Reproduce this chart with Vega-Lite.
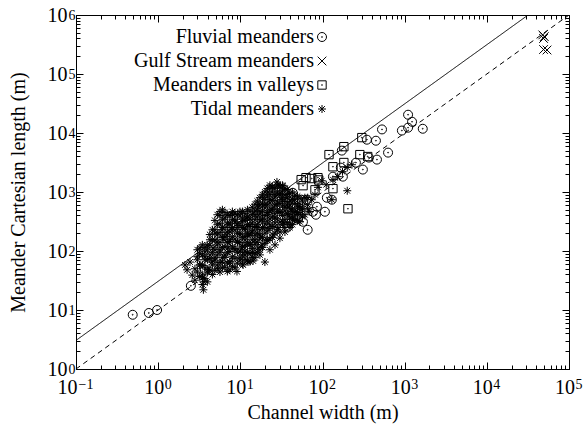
{
  "$schema": "https://vega.github.io/schema/vega-lite/v6.json",
  "width": 493,
  "height": 354,
  "autosize": "none",
  "padding": {"left": 76, "top": 15, "right": 14, "bottom": 64},
  "background": "white",
  "config": {
    "view": {"stroke": "black", "strokeWidth": 1},
    "font": "Liberation Serif",
    "axis": {"grid": false, "domainColor": "black", "tickColor": "black", "labelColor": "black", "titleColor": "black", "labelFont": "Liberation Serif", "titleFont": "Liberation Serif", "labelFontSize": 20, "titleFontSize": 20, "titleFontWeight": "normal", "labelOverlap": false, "labelFlush": false, "labelBound": false}
  },
  "datasets": {
    "lines": [
      {"w": 0.1, "l": 3.05, "kind": "a"},
      {"w": 31800, "l": 1000000, "kind": "a"},
      {"w": 0.1, "l": 1, "kind": "b"},
      {"w": 100000, "l": 1000000, "kind": "b"}
    ],
    "pts": [
      {"w": 0.49, "l": 8.3, "type": "Fluvial meanders"},
      {"w": 0.77, "l": 8.9, "type": "Fluvial meanders"},
      {"w": 0.97, "l": 10, "type": "Fluvial meanders"},
      {"w": 2.5, "l": 25.7, "type": "Fluvial meanders"},
      {"w": 3.7, "l": 48, "type": "Fluvial meanders"},
      {"w": 36.9, "l": 658, "type": "Fluvial meanders"},
      {"w": 37.9, "l": 258, "type": "Fluvial meanders"},
      {"w": 50.1, "l": 352, "type": "Fluvial meanders"},
      {"w": 57.8, "l": 313, "type": "Fluvial meanders"},
      {"w": 64.6, "l": 740, "type": "Fluvial meanders"},
      {"w": 76.4, "l": 463, "type": "Fluvial meanders"},
      {"w": 85.5, "l": 563, "type": "Fluvial meanders"},
      {"w": 83.2, "l": 412, "type": "Fluvial meanders"},
      {"w": 113, "l": 800, "type": "Fluvial meanders"},
      {"w": 130, "l": 740, "type": "Fluvial meanders"},
      {"w": 167, "l": 2590, "type": "Fluvial meanders"},
      {"w": 177, "l": 1820, "type": "Fluvial meanders"},
      {"w": 134, "l": 1820, "type": "Fluvial meanders"},
      {"w": 172, "l": 5030, "type": "Fluvial meanders"},
      {"w": 255, "l": 3140, "type": "Fluvial meanders"},
      {"w": 310, "l": 2400, "type": "Fluvial meanders"},
      {"w": 367, "l": 3830, "type": "Fluvial meanders"},
      {"w": 460, "l": 3540, "type": "Fluvial meanders"},
      {"w": 628, "l": 4650, "type": "Fluvial meanders"},
      {"w": 347, "l": 7700, "type": "Fluvial meanders"},
      {"w": 447, "l": 7400, "type": "Fluvial meanders"},
      {"w": 530, "l": 11500, "type": "Fluvial meanders"},
      {"w": 925, "l": 11000, "type": "Fluvial meanders"},
      {"w": 1100, "l": 20400, "type": "Fluvial meanders"},
      {"w": 1230, "l": 15500, "type": "Fluvial meanders"},
      {"w": 1100, "l": 12300, "type": "Fluvial meanders"},
      {"w": 1660, "l": 11800, "type": "Fluvial meanders"},
      {"w": 43.5, "l": 970, "type": "Fluvial meanders"},
      {"w": 56, "l": 740, "type": "Fluvial meanders"},
      {"w": 66, "l": 229, "type": "Fluvial meanders"},
      {"w": 107, "l": 463, "type": "Fluvial meanders"},
      {"w": 48000, "l": 460000, "type": "Gulf Stream meanders"},
      {"w": 49000, "l": 400000, "type": "Gulf Stream meanders"},
      {"w": 50000, "l": 430000, "type": "Gulf Stream meanders"},
      {"w": 49000, "l": 260000, "type": "Gulf Stream meanders"},
      {"w": 54000, "l": 255000, "type": "Gulf Stream meanders"},
      {"w": 301, "l": 8350, "type": "Meanders in valleys"},
      {"w": 182, "l": 5870, "type": "Meanders in valleys"},
      {"w": 120, "l": 4300, "type": "Meanders in valleys"},
      {"w": 285, "l": 4300, "type": "Meanders in valleys"},
      {"w": 355, "l": 3990, "type": "Meanders in valleys"},
      {"w": 134, "l": 2680, "type": "Meanders in valleys"},
      {"w": 182, "l": 3160, "type": "Meanders in valleys"},
      {"w": 55, "l": 1620, "type": "Meanders in valleys"},
      {"w": 58, "l": 1280, "type": "Meanders in valleys"},
      {"w": 74, "l": 1690, "type": "Meanders in valleys"},
      {"w": 88, "l": 1750, "type": "Meanders in valleys"},
      {"w": 81, "l": 1090, "type": "Meanders in valleys"},
      {"w": 134, "l": 1140, "type": "Meanders in valleys"},
      {"w": 204, "l": 520, "type": "Meanders in valleys"},
      {"w": 90, "l": 1600, "type": "Meanders in valleys"},
      {"w": 63, "l": 1750, "type": "Meanders in valleys"},
      {"w": 2.12, "l": 58, "type": "Tidal meanders"},
      {"w": 2.25, "l": 48, "type": "Tidal meanders"},
      {"w": 2.44, "l": 65, "type": "Tidal meanders"},
      {"w": 2.6, "l": 39, "type": "Tidal meanders"},
      {"w": 2.8, "l": 50, "type": "Tidal meanders"},
      {"w": 2.8, "l": 32, "type": "Tidal meanders"},
      {"w": 3.0, "l": 80, "type": "Tidal meanders"},
      {"w": 3.23, "l": 113, "type": "Tidal meanders"},
      {"w": 3.23, "l": 58, "type": "Tidal meanders"},
      {"w": 3.45, "l": 35, "type": "Tidal meanders"},
      {"w": 3.45, "l": 27, "type": "Tidal meanders"},
      {"w": 3.55, "l": 22, "type": "Tidal meanders"},
      {"w": 3.6, "l": 30, "type": "Tidal meanders"},
      {"w": 3.71, "l": 97, "type": "Tidal meanders"},
      {"w": 3.71, "l": 71, "type": "Tidal meanders"},
      {"w": 3.95, "l": 127, "type": "Tidal meanders"},
      {"w": 4.05, "l": 48, "type": "Tidal meanders"},
      {"w": 4.27, "l": 86, "type": "Tidal meanders"},
      {"w": 4.27, "l": 155, "type": "Tidal meanders"},
      {"w": 4.5, "l": 65, "type": "Tidal meanders"},
      {"w": 4.65, "l": 113, "type": "Tidal meanders"},
      {"w": 4.91, "l": 200, "type": "Tidal meanders"},
      {"w": 4.91, "l": 77, "type": "Tidal meanders"},
      {"w": 5.2, "l": 143, "type": "Tidal meanders"},
      {"w": 5.35, "l": 50, "type": "Tidal meanders"},
      {"w": 5.65, "l": 465, "type": "Tidal meanders"},
      {"w": 5.65, "l": 105, "type": "Tidal meanders"},
      {"w": 6.0, "l": 229, "type": "Tidal meanders"},
      {"w": 6.0, "l": 65, "type": "Tidal meanders"},
      {"w": 6.3, "l": 155, "type": "Tidal meanders"},
      {"w": 6.5, "l": 365, "type": "Tidal meanders"},
      {"w": 6.5, "l": 86, "type": "Tidal meanders"},
      {"w": 6.9, "l": 188, "type": "Tidal meanders"},
      {"w": 7.1, "l": 113, "type": "Tidal meanders"},
      {"w": 7.1, "l": 279, "type": "Tidal meanders"},
      {"w": 7.47, "l": 155, "type": "Tidal meanders"},
      {"w": 7.47, "l": 65, "type": "Tidal meanders"},
      {"w": 7.9, "l": 229, "type": "Tidal meanders"},
      {"w": 8.1, "l": 412, "type": "Tidal meanders"},
      {"w": 8.59, "l": 339, "type": "Tidal meanders"},
      {"w": 8.59, "l": 105, "type": "Tidal meanders"},
      {"w": 9.1, "l": 45, "type": "Tidal meanders"},
      {"w": 9.3, "l": 143, "type": "Tidal meanders"},
      {"w": 9.3, "l": 250, "type": "Tidal meanders"},
      {"w": 9.89, "l": 465, "type": "Tidal meanders"},
      {"w": 9.89, "l": 188, "type": "Tidal meanders"},
      {"w": 9.89, "l": 77, "type": "Tidal meanders"},
      {"w": 10.5, "l": 313, "type": "Tidal meanders"},
      {"w": 10.5, "l": 113, "type": "Tidal meanders"},
      {"w": 10.8, "l": 58, "type": "Tidal meanders"},
      {"w": 11.4, "l": 229, "type": "Tidal meanders"},
      {"w": 11.4, "l": 155, "type": "Tidal meanders"},
      {"w": 11.4, "l": 86, "type": "Tidal meanders"},
      {"w": 12.0, "l": 365, "type": "Tidal meanders"},
      {"w": 12.4, "l": 188, "type": "Tidal meanders"},
      {"w": 12.4, "l": 65, "type": "Tidal meanders"},
      {"w": 13.1, "l": 279, "type": "Tidal meanders"},
      {"w": 13.1, "l": 127, "type": "Tidal meanders"},
      {"w": 13.9, "l": 210, "type": "Tidal meanders"},
      {"w": 13.9, "l": 95, "type": "Tidal meanders"},
      {"w": 14.3, "l": 68, "type": "Tidal meanders"},
      {"w": 15.1, "l": 412, "type": "Tidal meanders"},
      {"w": 15.1, "l": 155, "type": "Tidal meanders"},
      {"w": 15.1, "l": 77, "type": "Tidal meanders"},
      {"w": 15.9, "l": 250, "type": "Tidal meanders"},
      {"w": 16.5, "l": 609, "type": "Tidal meanders"},
      {"w": 16.5, "l": 113, "type": "Tidal meanders"},
      {"w": 17.3, "l": 465, "type": "Tidal meanders"},
      {"w": 17.3, "l": 188, "type": "Tidal meanders"},
      {"w": 17.3, "l": 86, "type": "Tidal meanders"},
      {"w": 18.4, "l": 339, "type": "Tidal meanders"},
      {"w": 18.4, "l": 127, "type": "Tidal meanders"},
      {"w": 18.9, "l": 800, "type": "Tidal meanders"},
      {"w": 19.9, "l": 609, "type": "Tidal meanders"},
      {"w": 19.9, "l": 250, "type": "Tidal meanders"},
      {"w": 19.9, "l": 65, "type": "Tidal meanders"},
      {"w": 21, "l": 155, "type": "Tidal meanders"},
      {"w": 21.6, "l": 1000, "type": "Tidal meanders"},
      {"w": 21.6, "l": 412, "type": "Tidal meanders"},
      {"w": 22.9, "l": 740, "type": "Tidal meanders"},
      {"w": 22.9, "l": 279, "type": "Tidal meanders"},
      {"w": 22.9, "l": 105, "type": "Tidal meanders"},
      {"w": 24.2, "l": 1200, "type": "Tidal meanders"},
      {"w": 24.2, "l": 500, "type": "Tidal meanders"},
      {"w": 25, "l": 188, "type": "Tidal meanders"},
      {"w": 26.4, "l": 900, "type": "Tidal meanders"},
      {"w": 26.4, "l": 365, "type": "Tidal meanders"},
      {"w": 26.4, "l": 127, "type": "Tidal meanders"},
      {"w": 27.9, "l": 609, "type": "Tidal meanders"},
      {"w": 27.9, "l": 1480, "type": "Tidal meanders"},
      {"w": 28.8, "l": 1330, "type": "Tidal meanders"},
      {"w": 28.8, "l": 250, "type": "Tidal meanders"},
      {"w": 30.3, "l": 950, "type": "Tidal meanders"},
      {"w": 30.3, "l": 465, "type": "Tidal meanders"},
      {"w": 30.3, "l": 165, "type": "Tidal meanders"},
      {"w": 32, "l": 740, "type": "Tidal meanders"},
      {"w": 32.9, "l": 1270, "type": "Tidal meanders"},
      {"w": 32.9, "l": 313, "type": "Tidal meanders"},
      {"w": 34.9, "l": 550, "type": "Tidal meanders"},
      {"w": 34.9, "l": 210, "type": "Tidal meanders"},
      {"w": 37, "l": 900, "type": "Tidal meanders"},
      {"w": 38, "l": 412, "type": "Tidal meanders"},
      {"w": 40.1, "l": 609, "type": "Tidal meanders"},
      {"w": 40.1, "l": 250, "type": "Tidal meanders"},
      {"w": 42.3, "l": 465, "type": "Tidal meanders"},
      {"w": 43.5, "l": 339, "type": "Tidal meanders"},
      {"w": 46.1, "l": 740, "type": "Tidal meanders"},
      {"w": 47.5, "l": 412, "type": "Tidal meanders"},
      {"w": 50, "l": 550, "type": "Tidal meanders"},
      {"w": 53.1, "l": 313, "type": "Tidal meanders"},
      {"w": 56, "l": 500, "type": "Tidal meanders"},
      {"w": 61, "l": 412, "type": "Tidal meanders"},
      {"w": 61, "l": 800, "type": "Tidal meanders"},
      {"w": 66, "l": 609, "type": "Tidal meanders"},
      {"w": 70, "l": 465, "type": "Tidal meanders"},
      {"w": 74, "l": 740, "type": "Tidal meanders"},
      {"w": 81, "l": 900, "type": "Tidal meanders"},
      {"w": 88, "l": 1200, "type": "Tidal meanders"},
      {"w": 98, "l": 1550, "type": "Tidal meanders"},
      {"w": 111, "l": 1330, "type": "Tidal meanders"},
      {"w": 130, "l": 740, "type": "Tidal meanders"},
      {"w": 134, "l": 1618, "type": "Tidal meanders"},
      {"w": 153, "l": 1820, "type": "Tidal meanders"},
      {"w": 175, "l": 2210, "type": "Tidal meanders"},
      {"w": 200, "l": 2600, "type": "Tidal meanders"},
      {"w": 228, "l": 2900, "type": "Tidal meanders"},
      {"w": 200, "l": 1050, "type": "Tidal meanders"},
      {"w": 3.0, "l": 105, "type": "Tidal meanders"},
      {"w": 3.0, "l": 71, "type": "Tidal meanders"},
      {"w": 3.0, "l": 44, "type": "Tidal meanders"},
      {"w": 3.45, "l": 127, "type": "Tidal meanders"},
      {"w": 3.45, "l": 86, "type": "Tidal meanders"},
      {"w": 3.45, "l": 58, "type": "Tidal meanders"},
      {"w": 3.45, "l": 39, "type": "Tidal meanders"},
      {"w": 3.97, "l": 105, "type": "Tidal meanders"},
      {"w": 3.97, "l": 71, "type": "Tidal meanders"},
      {"w": 3.97, "l": 44, "type": "Tidal meanders"},
      {"w": 3.97, "l": 30, "type": "Tidal meanders"},
      {"w": 4.57, "l": 229, "type": "Tidal meanders"},
      {"w": 4.57, "l": 155, "type": "Tidal meanders"},
      {"w": 4.57, "l": 95, "type": "Tidal meanders"},
      {"w": 4.57, "l": 58, "type": "Tidal meanders"},
      {"w": 4.57, "l": 40, "type": "Tidal meanders"},
      {"w": 5.25, "l": 412, "type": "Tidal meanders"},
      {"w": 5.25, "l": 279, "type": "Tidal meanders"},
      {"w": 5.25, "l": 188, "type": "Tidal meanders"},
      {"w": 5.25, "l": 127, "type": "Tidal meanders"},
      {"w": 5.25, "l": 86, "type": "Tidal meanders"},
      {"w": 5.25, "l": 58, "type": "Tidal meanders"},
      {"w": 6.05, "l": 500, "type": "Tidal meanders"},
      {"w": 6.05, "l": 339, "type": "Tidal meanders"},
      {"w": 6.05, "l": 250, "type": "Tidal meanders"},
      {"w": 6.05, "l": 170, "type": "Tidal meanders"},
      {"w": 6.05, "l": 115, "type": "Tidal meanders"},
      {"w": 6.05, "l": 77, "type": "Tidal meanders"},
      {"w": 6.05, "l": 52, "type": "Tidal meanders"},
      {"w": 6.95, "l": 412, "type": "Tidal meanders"},
      {"w": 6.95, "l": 300, "type": "Tidal meanders"},
      {"w": 6.95, "l": 210, "type": "Tidal meanders"},
      {"w": 6.95, "l": 140, "type": "Tidal meanders"},
      {"w": 6.95, "l": 95, "type": "Tidal meanders"},
      {"w": 6.95, "l": 62, "type": "Tidal meanders"},
      {"w": 6.95, "l": 45, "type": "Tidal meanders"},
      {"w": 8.0, "l": 465, "type": "Tidal meanders"},
      {"w": 8.0, "l": 339, "type": "Tidal meanders"},
      {"w": 8.0, "l": 250, "type": "Tidal meanders"},
      {"w": 8.0, "l": 175, "type": "Tidal meanders"},
      {"w": 8.0, "l": 120, "type": "Tidal meanders"},
      {"w": 8.0, "l": 80, "type": "Tidal meanders"},
      {"w": 8.0, "l": 55, "type": "Tidal meanders"},
      {"w": 9.2, "l": 412, "type": "Tidal meanders"},
      {"w": 9.2, "l": 290, "type": "Tidal meanders"},
      {"w": 9.2, "l": 200, "type": "Tidal meanders"},
      {"w": 9.2, "l": 140, "type": "Tidal meanders"},
      {"w": 9.2, "l": 95, "type": "Tidal meanders"},
      {"w": 9.2, "l": 62, "type": "Tidal meanders"},
      {"w": 10.6, "l": 465, "type": "Tidal meanders"},
      {"w": 10.6, "l": 350, "type": "Tidal meanders"},
      {"w": 10.6, "l": 250, "type": "Tidal meanders"},
      {"w": 10.6, "l": 170, "type": "Tidal meanders"},
      {"w": 10.6, "l": 120, "type": "Tidal meanders"},
      {"w": 10.6, "l": 85, "type": "Tidal meanders"},
      {"w": 10.6, "l": 60, "type": "Tidal meanders"},
      {"w": 12.2, "l": 500, "type": "Tidal meanders"},
      {"w": 12.2, "l": 380, "type": "Tidal meanders"},
      {"w": 12.2, "l": 280, "type": "Tidal meanders"},
      {"w": 12.2, "l": 200, "type": "Tidal meanders"},
      {"w": 12.2, "l": 140, "type": "Tidal meanders"},
      {"w": 12.2, "l": 95, "type": "Tidal meanders"},
      {"w": 12.2, "l": 70, "type": "Tidal meanders"},
      {"w": 14.0, "l": 550, "type": "Tidal meanders"},
      {"w": 14.0, "l": 412, "type": "Tidal meanders"},
      {"w": 14.0, "l": 300, "type": "Tidal meanders"},
      {"w": 14.0, "l": 220, "type": "Tidal meanders"},
      {"w": 14.0, "l": 155, "type": "Tidal meanders"},
      {"w": 14.0, "l": 110, "type": "Tidal meanders"},
      {"w": 14.0, "l": 78, "type": "Tidal meanders"},
      {"w": 16.1, "l": 700, "type": "Tidal meanders"},
      {"w": 16.1, "l": 520, "type": "Tidal meanders"},
      {"w": 16.1, "l": 380, "type": "Tidal meanders"},
      {"w": 16.1, "l": 280, "type": "Tidal meanders"},
      {"w": 16.1, "l": 200, "type": "Tidal meanders"},
      {"w": 16.1, "l": 140, "type": "Tidal meanders"},
      {"w": 16.1, "l": 95, "type": "Tidal meanders"},
      {"w": 18.6, "l": 900, "type": "Tidal meanders"},
      {"w": 18.6, "l": 650, "type": "Tidal meanders"},
      {"w": 18.6, "l": 480, "type": "Tidal meanders"},
      {"w": 18.6, "l": 350, "type": "Tidal meanders"},
      {"w": 18.6, "l": 250, "type": "Tidal meanders"},
      {"w": 18.6, "l": 170, "type": "Tidal meanders"},
      {"w": 18.6, "l": 115, "type": "Tidal meanders"},
      {"w": 21.3, "l": 1150, "type": "Tidal meanders"},
      {"w": 21.3, "l": 850, "type": "Tidal meanders"},
      {"w": 21.3, "l": 600, "type": "Tidal meanders"},
      {"w": 21.3, "l": 450, "type": "Tidal meanders"},
      {"w": 21.3, "l": 320, "type": "Tidal meanders"},
      {"w": 21.3, "l": 220, "type": "Tidal meanders"},
      {"w": 21.3, "l": 150, "type": "Tidal meanders"},
      {"w": 24.5, "l": 1250, "type": "Tidal meanders"},
      {"w": 24.5, "l": 1000, "type": "Tidal meanders"},
      {"w": 24.5, "l": 720, "type": "Tidal meanders"},
      {"w": 24.5, "l": 520, "type": "Tidal meanders"},
      {"w": 24.5, "l": 380, "type": "Tidal meanders"},
      {"w": 24.5, "l": 260, "type": "Tidal meanders"},
      {"w": 24.5, "l": 170, "type": "Tidal meanders"},
      {"w": 28.2, "l": 1300, "type": "Tidal meanders"},
      {"w": 28.2, "l": 1000, "type": "Tidal meanders"},
      {"w": 28.2, "l": 700, "type": "Tidal meanders"},
      {"w": 28.2, "l": 500, "type": "Tidal meanders"},
      {"w": 28.2, "l": 350, "type": "Tidal meanders"},
      {"w": 28.2, "l": 230, "type": "Tidal meanders"},
      {"w": 32.5, "l": 1300, "type": "Tidal meanders"},
      {"w": 32.5, "l": 1050, "type": "Tidal meanders"},
      {"w": 32.5, "l": 800, "type": "Tidal meanders"},
      {"w": 32.5, "l": 580, "type": "Tidal meanders"},
      {"w": 32.5, "l": 400, "type": "Tidal meanders"},
      {"w": 32.5, "l": 280, "type": "Tidal meanders"},
      {"w": 37.3, "l": 1100, "type": "Tidal meanders"},
      {"w": 37.3, "l": 800, "type": "Tidal meanders"},
      {"w": 37.3, "l": 600, "type": "Tidal meanders"},
      {"w": 37.3, "l": 430, "type": "Tidal meanders"},
      {"w": 37.3, "l": 300, "type": "Tidal meanders"},
      {"w": 43, "l": 1000, "type": "Tidal meanders"},
      {"w": 43, "l": 750, "type": "Tidal meanders"},
      {"w": 43, "l": 520, "type": "Tidal meanders"},
      {"w": 43, "l": 380, "type": "Tidal meanders"},
      {"w": 43, "l": 280, "type": "Tidal meanders"},
      {"w": 49.5, "l": 850, "type": "Tidal meanders"},
      {"w": 49.5, "l": 620, "type": "Tidal meanders"},
      {"w": 49.5, "l": 450, "type": "Tidal meanders"},
      {"w": 49.5, "l": 330, "type": "Tidal meanders"},
      {"w": 57, "l": 700, "type": "Tidal meanders"},
      {"w": 57, "l": 520, "type": "Tidal meanders"},
      {"w": 57, "l": 380, "type": "Tidal meanders"},
      {"w": 66, "l": 800, "type": "Tidal meanders"},
      {"w": 66, "l": 520, "type": "Tidal meanders"},
      {"w": 3.2, "l": 90, "type": "Tidal meanders"},
      {"w": 3.2, "l": 58, "type": "Tidal meanders"},
      {"w": 3.2, "l": 37, "type": "Tidal meanders"},
      {"w": 3.7, "l": 115, "type": "Tidal meanders"},
      {"w": 3.7, "l": 80, "type": "Tidal meanders"},
      {"w": 3.7, "l": 52, "type": "Tidal meanders"},
      {"w": 3.7, "l": 34, "type": "Tidal meanders"},
      {"w": 4.25, "l": 190, "type": "Tidal meanders"},
      {"w": 4.25, "l": 125, "type": "Tidal meanders"},
      {"w": 4.25, "l": 75, "type": "Tidal meanders"},
      {"w": 4.25, "l": 48, "type": "Tidal meanders"},
      {"w": 4.9, "l": 330, "type": "Tidal meanders"},
      {"w": 4.9, "l": 230, "type": "Tidal meanders"},
      {"w": 4.9, "l": 155, "type": "Tidal meanders"},
      {"w": 4.9, "l": 105, "type": "Tidal meanders"},
      {"w": 4.9, "l": 70, "type": "Tidal meanders"},
      {"w": 4.9, "l": 47, "type": "Tidal meanders"},
      {"w": 5.65, "l": 400, "type": "Tidal meanders"},
      {"w": 5.65, "l": 290, "type": "Tidal meanders"},
      {"w": 5.65, "l": 205, "type": "Tidal meanders"},
      {"w": 5.65, "l": 140, "type": "Tidal meanders"},
      {"w": 5.65, "l": 95, "type": "Tidal meanders"},
      {"w": 5.65, "l": 64, "type": "Tidal meanders"},
      {"w": 5.65, "l": 44, "type": "Tidal meanders"},
      {"w": 6.5, "l": 450, "type": "Tidal meanders"},
      {"w": 6.5, "l": 250, "type": "Tidal meanders"},
      {"w": 6.5, "l": 175, "type": "Tidal meanders"},
      {"w": 6.5, "l": 118, "type": "Tidal meanders"},
      {"w": 6.5, "l": 78, "type": "Tidal meanders"},
      {"w": 6.5, "l": 53, "type": "Tidal meanders"},
      {"w": 7.45, "l": 400, "type": "Tidal meanders"},
      {"w": 7.45, "l": 290, "type": "Tidal meanders"},
      {"w": 7.45, "l": 210, "type": "Tidal meanders"},
      {"w": 7.45, "l": 145, "type": "Tidal meanders"},
      {"w": 7.45, "l": 98, "type": "Tidal meanders"},
      {"w": 7.45, "l": 66, "type": "Tidal meanders"},
      {"w": 7.45, "l": 48, "type": "Tidal meanders"},
      {"w": 8.6, "l": 440, "type": "Tidal meanders"},
      {"w": 8.6, "l": 310, "type": "Tidal meanders"},
      {"w": 8.6, "l": 230, "type": "Tidal meanders"},
      {"w": 8.6, "l": 160, "type": "Tidal meanders"},
      {"w": 8.6, "l": 110, "type": "Tidal meanders"},
      {"w": 8.6, "l": 75, "type": "Tidal meanders"},
      {"w": 8.6, "l": 52, "type": "Tidal meanders"},
      {"w": 9.9, "l": 390, "type": "Tidal meanders"},
      {"w": 9.9, "l": 270, "type": "Tidal meanders"},
      {"w": 9.9, "l": 200, "type": "Tidal meanders"},
      {"w": 9.9, "l": 140, "type": "Tidal meanders"},
      {"w": 9.9, "l": 100, "type": "Tidal meanders"},
      {"w": 9.9, "l": 70, "type": "Tidal meanders"},
      {"w": 11.4, "l": 430, "type": "Tidal meanders"},
      {"w": 11.4, "l": 330, "type": "Tidal meanders"},
      {"w": 11.4, "l": 245, "type": "Tidal meanders"},
      {"w": 11.4, "l": 175, "type": "Tidal meanders"},
      {"w": 11.4, "l": 125, "type": "Tidal meanders"},
      {"w": 11.4, "l": 100, "type": "Tidal meanders"},
      {"w": 11.4, "l": 72, "type": "Tidal meanders"},
      {"w": 13.1, "l": 470, "type": "Tidal meanders"},
      {"w": 13.1, "l": 350, "type": "Tidal meanders"},
      {"w": 13.1, "l": 260, "type": "Tidal meanders"},
      {"w": 13.1, "l": 185, "type": "Tidal meanders"},
      {"w": 13.1, "l": 130, "type": "Tidal meanders"},
      {"w": 13.1, "l": 90, "type": "Tidal meanders"},
      {"w": 13.1, "l": 66, "type": "Tidal meanders"},
      {"w": 15.1, "l": 620, "type": "Tidal meanders"},
      {"w": 15.1, "l": 480, "type": "Tidal meanders"},
      {"w": 15.1, "l": 340, "type": "Tidal meanders"},
      {"w": 15.1, "l": 260, "type": "Tidal meanders"},
      {"w": 15.1, "l": 185, "type": "Tidal meanders"},
      {"w": 15.1, "l": 130, "type": "Tidal meanders"},
      {"w": 15.1, "l": 92, "type": "Tidal meanders"},
      {"w": 17.3, "l": 800, "type": "Tidal meanders"},
      {"w": 17.3, "l": 600, "type": "Tidal meanders"},
      {"w": 17.3, "l": 420, "type": "Tidal meanders"},
      {"w": 17.3, "l": 320, "type": "Tidal meanders"},
      {"w": 17.3, "l": 230, "type": "Tidal meanders"},
      {"w": 17.3, "l": 160, "type": "Tidal meanders"},
      {"w": 17.3, "l": 105, "type": "Tidal meanders"},
      {"w": 19.9, "l": 1000, "type": "Tidal meanders"},
      {"w": 19.9, "l": 750, "type": "Tidal meanders"},
      {"w": 19.9, "l": 540, "type": "Tidal meanders"},
      {"w": 19.9, "l": 400, "type": "Tidal meanders"},
      {"w": 19.9, "l": 290, "type": "Tidal meanders"},
      {"w": 19.9, "l": 200, "type": "Tidal meanders"},
      {"w": 19.9, "l": 135, "type": "Tidal meanders"},
      {"w": 22.9, "l": 1300, "type": "Tidal meanders"},
      {"w": 22.9, "l": 900, "type": "Tidal meanders"},
      {"w": 22.9, "l": 650, "type": "Tidal meanders"},
      {"w": 22.9, "l": 480, "type": "Tidal meanders"},
      {"w": 22.9, "l": 350, "type": "Tidal meanders"},
      {"w": 22.9, "l": 240, "type": "Tidal meanders"},
      {"w": 22.9, "l": 160, "type": "Tidal meanders"},
      {"w": 26.3, "l": 1150, "type": "Tidal meanders"},
      {"w": 26.3, "l": 820, "type": "Tidal meanders"},
      {"w": 26.3, "l": 600, "type": "Tidal meanders"},
      {"w": 26.3, "l": 430, "type": "Tidal meanders"},
      {"w": 26.3, "l": 300, "type": "Tidal meanders"},
      {"w": 26.3, "l": 200, "type": "Tidal meanders"},
      {"w": 30.3, "l": 1200, "type": "Tidal meanders"},
      {"w": 30.3, "l": 880, "type": "Tidal meanders"},
      {"w": 30.3, "l": 640, "type": "Tidal meanders"},
      {"w": 30.3, "l": 450, "type": "Tidal meanders"},
      {"w": 30.3, "l": 310, "type": "Tidal meanders"},
      {"w": 30.3, "l": 210, "type": "Tidal meanders"},
      {"w": 34.9, "l": 1150, "type": "Tidal meanders"},
      {"w": 34.9, "l": 900, "type": "Tidal meanders"},
      {"w": 34.9, "l": 690, "type": "Tidal meanders"},
      {"w": 34.9, "l": 480, "type": "Tidal meanders"},
      {"w": 34.9, "l": 340, "type": "Tidal meanders"},
      {"w": 34.9, "l": 250, "type": "Tidal meanders"},
      {"w": 40, "l": 950, "type": "Tidal meanders"},
      {"w": 40, "l": 700, "type": "Tidal meanders"},
      {"w": 40, "l": 520, "type": "Tidal meanders"},
      {"w": 40, "l": 360, "type": "Tidal meanders"},
      {"w": 40, "l": 280, "type": "Tidal meanders"},
      {"w": 46, "l": 880, "type": "Tidal meanders"},
      {"w": 46, "l": 640, "type": "Tidal meanders"},
      {"w": 46, "l": 460, "type": "Tidal meanders"},
      {"w": 46, "l": 330, "type": "Tidal meanders"},
      {"w": 53, "l": 780, "type": "Tidal meanders"},
      {"w": 53, "l": 570, "type": "Tidal meanders"},
      {"w": 53, "l": 420, "type": "Tidal meanders"}
    ]
  },
  "resolve": {"axis": {"x": "independent", "y": "independent"}},
  "layer": [
    {
      "data": {"name": "lines"},
      "mark": {"type": "line", "stroke": "black", "strokeWidth": 1, "clip": true},
      "encoding": {
        "x": {"field": "w", "type": "quantitative", "scale": {"type": "log", "domain": [0.1, 100000], "nice": false},
          "axis": {"orient": "bottom", "title": "Channel width (m)", "titlePadding": 2,
            "values": [0.1,0.2,0.3,0.4,0.5,0.6,0.7,0.8,0.9,1,2,3,4,5,6,7,8,9,10,20,30,40,50,60,70,80,90,100,200,300,400,500,600,700,800,900,1000,2000,3000,4000,5000,6000,7000,8000,9000,10000,20000,30000,40000,50000,60000,70000,80000,90000,100000],
            "labelExpr": "abs(log(datum.value)/LN10 - round(log(datum.value)/LN10)) < 0.000001 ? '10' : ''",
            "labelOffset": {"condition": {"test": "datum.value < 0.5", "value": -9}, "value": -4.5},
            "tickSize": {"condition": {"test": "abs(log(datum.value)/LN10 - round(log(datum.value)/LN10)) < 0.000001", "value": -7}, "value": -4},
            "labelPadding": 15}},
        "y": {"field": "l", "type": "quantitative", "scale": {"type": "log", "domain": [1, 1000000], "nice": false},
          "axis": {"orient": "left", "title": "Meander Cartesian length (m)", "titlePadding": 19,
            "values": [1,2,3,4,5,6,7,8,9,10,20,30,40,50,60,70,80,90,100,200,300,400,500,600,700,800,900,1000,2000,3000,4000,5000,6000,7000,8000,9000,10000,20000,30000,40000,50000,60000,70000,80000,90000,100000,200000,300000,400000,500000,600000,700000,800000,900000,1000000],
            "labelExpr": "abs(log(datum.value)/LN10 - round(log(datum.value)/LN10)) < 0.000001 ? '10' : ''",
            "tickSize": {"condition": {"test": "abs(log(datum.value)/LN10 - round(log(datum.value)/LN10)) < 0.000001", "value": -7}, "value": -4},
            "labelPadding": 16}},
        "detail": {"field": "kind"},
        "strokeDash": {"field": "kind", "type": "nominal", "scale": {"domain": ["a", "b"], "range": [[1, 0], [5, 4]]}, "legend": null}
      }
    },
    {
      "data": {"name": "lines"},
      "mark": {"type": "line", "strokeOpacity": 0, "clip": true},
      "encoding": {
        "x": {"field": "w", "type": "quantitative", "scale": {"type": "log", "domain": [0.1, 100000], "nice": false},
          "axis": {"orient": "bottom", "title": null, "domain": false, "tickColor": "transparent",
            "values": [0.1,1,10,100,1000,10000,100000],
            "labelExpr": "['−1','0','1','2','3','4','5','6'][round(log(datum.value)/LN10)+1]",
            "labelFontSize": 14, "labelOffset": 9.5, "labelDy": -2,
            "tickSize": {"condition": {"test": "datum.value > 0", "value": -7}, "value": -4},
            "labelPadding": 15}},
        "y": {"field": "l", "type": "quantitative", "scale": {"type": "log", "domain": [1, 1000000], "nice": false},
          "axis": {"orient": "left", "title": null, "domain": false, "tickColor": "transparent",
            "values": [1,10,100,1000,10000,100000,1000000],
            "labelExpr": "['−1','0','1','2','3','4','5','6'][round(log(datum.value)/LN10)+1]",
            "labelFontSize": 14, "labelDy": -3,
            "tickSize": {"condition": {"test": "datum.value > 0", "value": -7}, "value": -4},
            "labelPadding": 8}},
        "detail": {"field": "kind"}
      }
    },
    {
      "data": {"name": "pts"},
      "mark": {"type": "point", "filled": false, "stroke": "black", "opacity": 1},
      "encoding": {
        "x": {"field": "w", "type": "quantitative", "scale": {"type": "log", "domain": [0.1, 100000], "nice": false},
          "axis": {"orient": "top", "title": null, "labels": false,
            "values": [0.1,0.2,0.3,0.4,0.5,0.6,0.7,0.8,0.9,1,2,3,4,5,6,7,8,9,10,20,30,40,50,60,70,80,90,100,200,300,400,500,600,700,800,900,1000,2000,3000,4000,5000,6000,7000,8000,9000,10000,20000,30000,40000,50000,60000,70000,80000,90000,100000],
            "tickSize": {"condition": {"test": "abs(log(datum.value)/LN10 - round(log(datum.value)/LN10)) < 0.000001", "value": -7}, "value": -4}}},
        "y": {"field": "l", "type": "quantitative", "scale": {"type": "log", "domain": [1, 1000000], "nice": false},
          "axis": {"orient": "right", "title": null, "labels": false,
            "values": [1,2,3,4,5,6,7,8,9,10,20,30,40,50,60,70,80,90,100,200,300,400,500,600,700,800,900,1000,2000,3000,4000,5000,6000,7000,8000,9000,10000,20000,30000,40000,50000,60000,70000,80000,90000,100000,200000,300000,400000,500000,600000,700000,800000,900000,1000000],
            "tickSize": {"condition": {"test": "abs(log(datum.value)/LN10 - round(log(datum.value)/LN10)) < 0.000001", "value": -7}, "value": -4}}},
        "shape": {"field": "type", "type": "nominal",
          "scale": {"domain": ["Fluvial meanders", "Gulf Stream meanders", "Meanders in valleys", "Tidal meanders"],
            "range": ["M1,0A1,1,0,1,1,-1,0A1,1,0,1,1,1,0ZM0.1,0A0.1,0.1,0,1,1,-0.1,0A0.1,0.1,0,1,1,0.1,0Z", "M-1,-1L1,1M-1,1L1,-1", "M-1,-1L1,-1L1,1L-1,1ZM0.1,0A0.1,0.1,0,1,1,-0.1,0A0.1,0.1,0,1,1,0.1,0Z", "M-1,0L1,0M0,-1L0,1M-0.72,-0.72L0.72,0.72M-0.72,0.72L0.72,-0.72"]},
          "legend": {"title": null, "orient": "none", "legendX": 236, "legendY": 12, "labelAlign": "right", "labelOffset": -18, "labelLimit": 400, "labelFont": "Liberation Serif", "labelFontSize": 20, "labelColor": "black", "rowPadding": 4, "symbolStrokeColor": "black", "symbolStrokeWidth": 1, "symbolFillColor": "transparent", "padding": 0}},
        "size": {"field": "type", "type": "nominal",
          "scale": {"domain": ["Fluvial meanders", "Gulf Stream meanders", "Meanders in valleys", "Tidal meanders"], "range": [81, 64, 64, 121]}},
        "strokeWidth": {"field": "type", "type": "nominal",
          "scale": {"domain": ["Fluvial meanders", "Gulf Stream meanders", "Meanders in valleys", "Tidal meanders"], "range": [1, 1, 1, 1.3]}, "legend": null}
      }
    }
  ]
}
